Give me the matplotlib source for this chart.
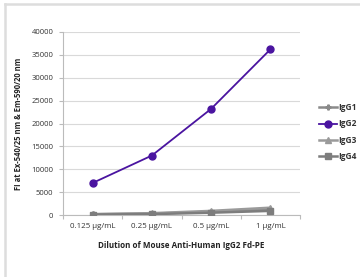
import matplotlib
matplotlib.use("Agg")
import matplotlib.pyplot as plt
from matplotlib.lines import Line2D
import numpy as np

categories = ["0.125 µg/mL", "0.25 µg/mL", "0.5 µg/mL", "1 µg/mL"]
igg1 = [150, 300, 700, 1200]
igg2 = [7000, 13000, 23200, 36200]
igg3 = [200, 400, 900, 1600]
igg4 = [100, 200, 500, 900]
yticks = [0, 5000, 10000, 15000, 20000, 25000, 30000, 35000, 40000]

plt.rcParams['font.family'] = ['Open Sans', 'DejaVu Sans']

fig = plt.figure(figsize=(3.6, 2.77), dpi=100)
ax = fig.add_axes([63/360, 1-215/277, (300-63)/360, (215-32)/277])

x = np.arange(len(categories))
g = '#8a8a8a'
ax.plot(x, igg1, color=g, lw=1.8, marker='P', ms=3.5, label='IgG1', zorder=3)
ax.plot(x, igg3, color='#9a9a9a', lw=1.8, marker='^', ms=5, label='IgG3', zorder=3)
ax.plot(x, igg4, color='#7d7d7d', lw=1.8, marker='s', ms=4.5, label='IgG4', zorder=3)
ax.plot(x, igg2, color='#4a14a0', lw=1.3, marker='o', ms=5, label='IgG2', zorder=4)

ax.set_xlim(-0.5, len(categories) - 0.5)
ax.set_ylim(0, 40000)
ax.set_yticks(yticks)
ax.set_yticklabels([str(v) for v in yticks])
ax.set_xticks(x)
ax.set_xticklabels(categories)
ax.set_xticks(np.arange(-0.5, len(categories)), minor=True)
ax.tick_params(axis='x', which='major', length=0, pad=6, labelsize=5.7, labelcolor='#333333')
ax.tick_params(axis='x', which='minor', length=3, color='#bbbbbb', width=0.8)
ax.tick_params(axis='y', length=3, color='#bbbbbb', width=0.8, labelsize=5.5, labelcolor='#333333', pad=4)
ax.grid(axis='y', color='#d9d9d9', lw=0.8)
ax.set_axisbelow(True)
for s in ['top', 'right']:
    ax.spines[s].set_visible(False)
for s in ['left', 'bottom']:
    ax.spines[s].set_color('#bbbbbb')
    ax.spines[s].set_linewidth(0.8)

ax.set_xlabel('Dilution of Mouse Anti-Human IgG2 Fd-PE', fontsize=5.8, fontweight='bold', color='#222222', labelpad=8)
ax.set_ylabel('FI at Ex-540/25 nm & Em-590/20 nm', fontsize=5.5, fontweight='bold', color='#222222', labelpad=6)

handles, labels = ax.get_legend_handles_labels()
order = [0, 3, 1, 2]
leg = fig.legend([handles[i] for i in order], [labels[i] for i in order],
                 loc='center left', bbox_to_anchor=(311/360, 1-132/277), frameon=False,
                 fontsize=6, handlelength=2.2, handletextpad=0.2, labelspacing=0.85)
for t in leg.get_texts():
    t.set_fontweight('bold')
    t.set_color('#333333')

fig.add_artist(Line2D([4.5/360, 4.5/360], [0, 1-3.5/277], transform=fig.transFigure, color='#dddddd', lw=1.8))
fig.add_artist(Line2D([4.5/360, 1], [1-3.5/277, 1-3.5/277], transform=fig.transFigure, color='#dddddd', lw=1.8))

fig.savefig('out.png', dpi=100)
